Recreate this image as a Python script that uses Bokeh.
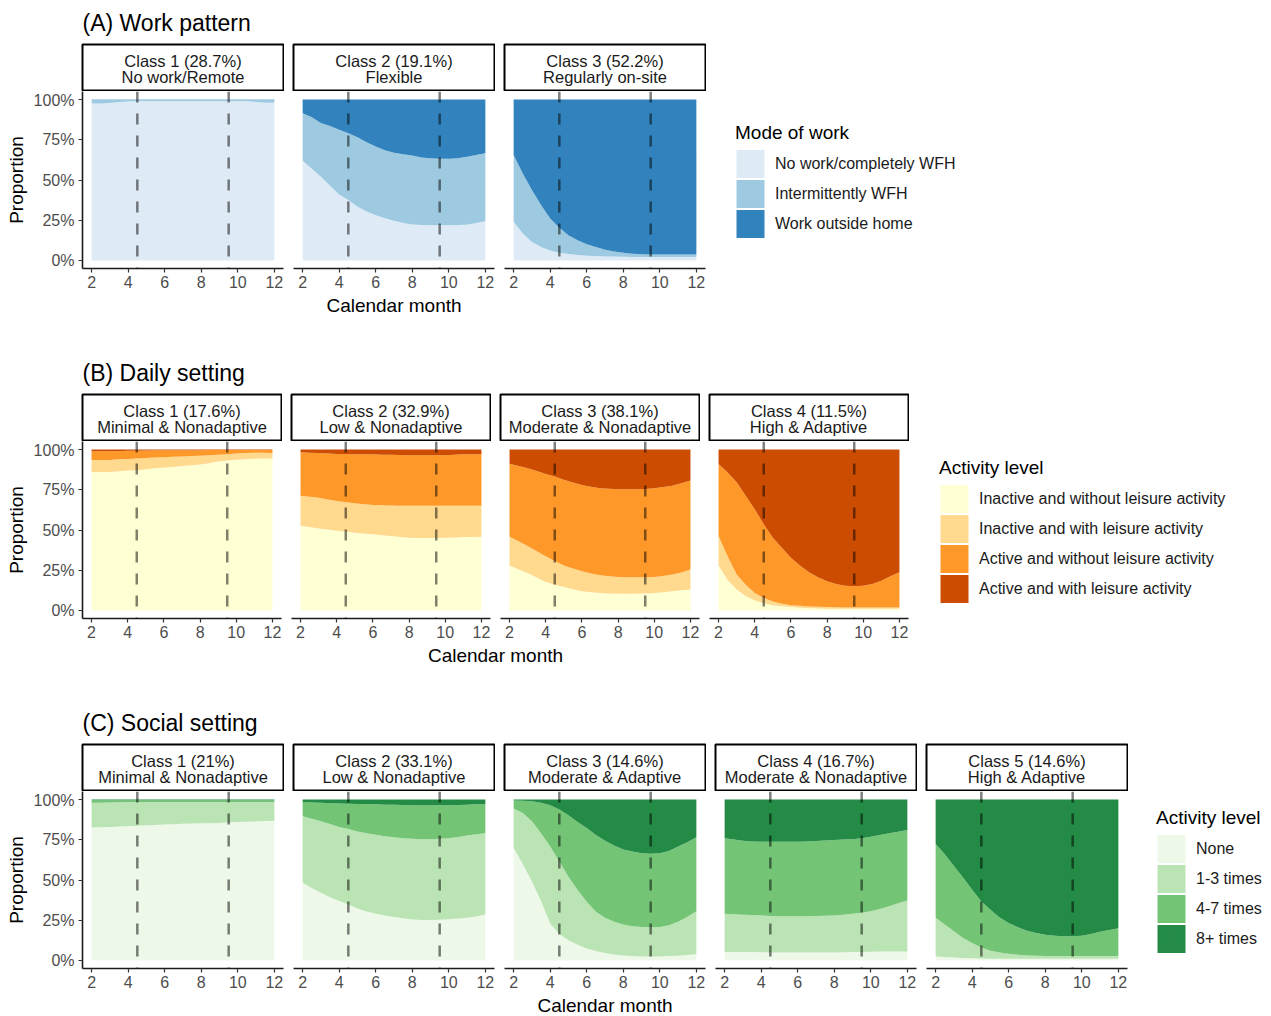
import numpy as np
from bokeh.plotting import figure
from bokeh.layouts import column, row
from bokeh.models import Span, Legend, LegendItem, FixedTicker, NumeralTickFormatter, Range1d
from bokeh.core.properties import value
from bokeh.embed import file_html
from bokeh.resources import INLINE

FONT = "Liberation Sans"

# sampled calendar months (half-month steps)
MONTHS = [2.0, 2.5, 3.0, 3.5, 4.0, 4.5, 5.0, 5.5, 6.0, 6.5, 7.0,
          7.5, 8.0, 8.5, 9.0, 9.5, 10.0, 10.5, 11.0, 11.5, 12.0]
MONTH_TICKS = [2, 4, 6, 8, 10, 12]
PROP_TICKS = [0, 0.25, 0.5, 0.75, 1.0]
LOCKDOWN_MONTHS = [4.5, 9.5]

# ---------------- (A) Work pattern ----------------
WORK_LEVELS = ["No work/completely WFH", "Intermittently WFH", "Work outside home"]
WORK_COLORS = ["#deebf7", "#9ecae1", "#3182bd"]
WORK_CLASSES = [("Class 1 (28.7%)", "No work/Remote"),
                ("Class 2 (19.1%)", "Flexible"),
                ("Class 3 (52.2%)", "Regularly on-site")]
# cumulative proportion reached by each level (the last level tops out at 100%)
WORK_C1 = [
    [0.975, 0.975, 0.978, 0.985, 0.988, 0.99, 0.99, 0.99, 0.99, 0.99, 0.99,
     0.99, 0.99, 0.99, 0.99, 0.99, 0.99, 0.99, 0.985, 0.98, 0.98],
    [0.999, 0.999, 0.999, 0.999, 0.999, 0.999, 0.999, 0.999, 0.999, 0.999, 0.999,
     0.999, 0.999, 0.999, 0.999, 0.999, 0.999, 0.999, 0.999, 0.999, 0.999],
]
WORK_C2 = [
    [0.62, 0.57, 0.52, 0.465, 0.41, 0.375, 0.333, 0.305, 0.281, 0.262, 0.246,
     0.233, 0.223, 0.22, 0.219, 0.219, 0.219, 0.22, 0.222, 0.232, 0.244],
    [0.915, 0.89, 0.855, 0.835, 0.8125, 0.79, 0.765, 0.735, 0.708, 0.685, 0.67,
     0.66, 0.652, 0.64, 0.635, 0.632, 0.632, 0.635, 0.645, 0.655, 0.667],
]
WORK_C3 = [
    [0.24, 0.167, 0.115, 0.083, 0.062, 0.048, 0.04, 0.034, 0.03, 0.027, 0.025,
     0.024, 0.023, 0.022, 0.022, 0.022, 0.022, 0.022, 0.022, 0.022, 0.022],
    [0.656, 0.54, 0.4375, 0.344, 0.26, 0.204, 0.156, 0.125, 0.1, 0.083, 0.067,
     0.056, 0.048, 0.042, 0.038, 0.0375, 0.0375, 0.0375, 0.0375, 0.0375, 0.0375],
]

# ---------------- (B) Daily setting ----------------
DAILY_LEVELS = ["Inactive and without leisure activity", "Inactive and with leisure activity",
                "Active and without leisure activity", "Active and with leisure activity"]
DAILY_COLORS = ["#ffffd4", "#fed98e", "#fe9929", "#cc4c02"]
DAILY_CLASSES = [("Class 1 (17.6%)", "Minimal & Nonadaptive"),
                 ("Class 2 (32.9%)", "Low & Nonadaptive"),
                 ("Class 3 (38.1%)", "Moderate & Nonadaptive"),
                 ("Class 4 (11.5%)", "High & Adaptive")]
DAILY_C1 = [
    [0.86, 0.86, 0.86, 0.865, 0.87, 0.872, 0.878, 0.883, 0.888, 0.892, 0.897,
     0.902, 0.907, 0.915, 0.925, 0.932, 0.937, 0.94, 0.943, 0.945, 0.945],
    [0.935, 0.935, 0.935, 0.94, 0.942, 0.945, 0.947, 0.95, 0.952, 0.955, 0.957,
     0.96, 0.962, 0.965, 0.967, 0.97, 0.975, 0.978, 0.98, 0.98, 0.978],
    [0.99, 0.99, 0.99, 0.99, 0.992, 0.993, 0.994, 0.995, 0.995, 0.995, 0.996,
     0.996, 0.996, 0.997, 0.997, 0.997, 0.997, 0.997, 0.997, 0.997, 0.997],
]
DAILY_C2 = [
    [0.527, 0.518, 0.51, 0.503, 0.496, 0.49, 0.483, 0.478, 0.473, 0.468, 0.4625,
     0.457, 0.452, 0.45, 0.45, 0.45, 0.452, 0.454, 0.456, 0.457, 0.458],
    [0.7125, 0.706, 0.70, 0.69, 0.68, 0.673, 0.667, 0.66, 0.656, 0.654, 0.652,
     0.651, 0.65, 0.65, 0.65, 0.65, 0.65, 0.65, 0.65, 0.65, 0.65],
    [0.983, 0.98, 0.978, 0.975, 0.973, 0.972, 0.971, 0.97, 0.97, 0.968, 0.967,
     0.966, 0.965, 0.965, 0.965, 0.965, 0.965, 0.967, 0.97, 0.97, 0.97],
]
DAILY_C3 = [
    [0.28, 0.255, 0.233, 0.205, 0.177, 0.16, 0.146, 0.132, 0.12, 0.113, 0.108,
     0.105, 0.104, 0.104, 0.104, 0.105, 0.108, 0.113, 0.12, 0.125, 0.13],
    [0.458, 0.43, 0.40, 0.368, 0.3375, 0.308, 0.28, 0.26, 0.244, 0.23, 0.219,
     0.212, 0.208, 0.206, 0.206, 0.206, 0.208, 0.214, 0.223, 0.236, 0.254],
    [0.9125, 0.898, 0.883, 0.866, 0.848, 0.833, 0.8125, 0.795, 0.78, 0.769, 0.76,
     0.756, 0.754, 0.754, 0.754, 0.755, 0.76, 0.767, 0.775, 0.79, 0.808],
]
DAILY_C4 = [
    [0.28, 0.19, 0.13, 0.09, 0.062, 0.045, 0.033, 0.026, 0.021, 0.017, 0.014,
     0.012, 0.011, 0.01, 0.01, 0.01, 0.01, 0.01, 0.01, 0.01, 0.01],
    [0.4625, 0.3375, 0.223, 0.16, 0.108, 0.077, 0.056, 0.042, 0.033, 0.029, 0.025,
     0.023, 0.021, 0.02, 0.019, 0.019, 0.019, 0.019, 0.019, 0.019, 0.019],
    [0.91, 0.858, 0.796, 0.7125, 0.629, 0.535, 0.452, 0.39, 0.327, 0.279, 0.2375,
     0.206, 0.181, 0.165, 0.154, 0.15, 0.154, 0.165, 0.185, 0.2125, 0.2375],
]

# ---------------- (C) Social setting ----------------
SOCIAL_LEVELS = ["None", "1-3 times", "4-7 times", "8+ times"]
SOCIAL_COLORS = ["#edf8e9", "#bae4b3", "#74c476", "#238b45"]
SOCIAL_CLASSES = [("Class 1 (21%)", "Minimal & Nonadaptive"),
                  ("Class 2 (33.1%)", "Low & Nonadaptive"),
                  ("Class 3 (14.6%)", "Moderate & Adaptive"),
                  ("Class 4 (16.7%)", "Moderate & Nonadaptive"),
                  ("Class 5 (14.6%)", "High & Adaptive")]
SOCIAL_C1 = [
    [0.827, 0.828, 0.83, 0.832, 0.835, 0.837, 0.84, 0.842, 0.845, 0.847, 0.85,
     0.851, 0.852, 0.853, 0.855, 0.857, 0.86, 0.862, 0.864, 0.866, 0.868],
    [0.98, 0.98, 0.982, 0.983, 0.984, 0.985, 0.985, 0.985, 0.985, 0.985, 0.985,
     0.985, 0.985, 0.985, 0.985, 0.985, 0.985, 0.985, 0.985, 0.985, 0.985],
    [0.995, 0.995, 0.995, 0.995, 0.995, 0.995, 0.995, 0.995, 0.995, 0.995, 0.995,
     0.995, 0.995, 0.995, 0.995, 0.995, 0.995, 0.995, 0.995, 0.995, 0.995],
]
SOCIAL_C2 = [
    [0.483, 0.45, 0.42, 0.393, 0.369, 0.348, 0.323, 0.305, 0.29, 0.279, 0.27,
     0.262, 0.254, 0.252, 0.252, 0.253, 0.256, 0.26, 0.265, 0.273, 0.285],
    [0.896, 0.88, 0.865, 0.848, 0.83, 0.817, 0.802, 0.79, 0.781, 0.772, 0.765,
     0.76, 0.756, 0.754, 0.754, 0.756, 0.76, 0.768, 0.777, 0.784, 0.79],
    [0.985, 0.982, 0.98, 0.977, 0.975, 0.974, 0.973, 0.972, 0.97, 0.968, 0.967,
     0.966, 0.965, 0.965, 0.965, 0.965, 0.965, 0.966, 0.968, 0.97, 0.97],
]
SOCIAL_C3 = [
    [0.70, 0.60, 0.49, 0.37, 0.23, 0.165, 0.125, 0.098, 0.075, 0.058, 0.046,
     0.037, 0.031, 0.027, 0.025, 0.025, 0.025, 0.027, 0.03, 0.034, 0.038],
    [0.944, 0.917, 0.865, 0.79, 0.708, 0.615, 0.52, 0.4375, 0.365, 0.302, 0.265,
     0.24, 0.223, 0.2125, 0.208, 0.206, 0.208, 0.219, 0.24, 0.27, 0.306],
    [0.994, 0.993, 0.99, 0.98, 0.965, 0.9375, 0.902, 0.86, 0.823, 0.78, 0.744,
     0.715, 0.69, 0.677, 0.667, 0.6625, 0.667, 0.68, 0.708, 0.735, 0.765],
]
SOCIAL_C4 = [
    [0.052, 0.052, 0.052, 0.052, 0.051, 0.05, 0.05, 0.05, 0.05, 0.05, 0.05,
     0.05, 0.05, 0.051, 0.052, 0.053, 0.054, 0.055, 0.055, 0.056, 0.056],
    [0.29, 0.287, 0.284, 0.282, 0.28, 0.277, 0.275, 0.275, 0.275, 0.275, 0.276,
     0.278, 0.28, 0.284, 0.29, 0.297, 0.306, 0.32, 0.337, 0.355, 0.373],
    [0.76, 0.752, 0.744, 0.74, 0.7375, 0.737, 0.737, 0.737, 0.7375, 0.74, 0.743,
     0.745, 0.748, 0.751, 0.754, 0.76, 0.769, 0.78, 0.79, 0.8, 0.81],
]
SOCIAL_C5 = [
    [0.025, 0.022, 0.019, 0.016, 0.014, 0.012, 0.011, 0.01, 0.01, 0.01, 0.01,
     0.01, 0.01, 0.01, 0.01, 0.01, 0.01, 0.01, 0.01, 0.01, 0.01],
    [0.265, 0.223, 0.181, 0.14, 0.108, 0.081, 0.06, 0.05, 0.042, 0.036, 0.031,
     0.029, 0.027, 0.027, 0.027, 0.027, 0.027, 0.027, 0.027, 0.027, 0.027],
    [0.723, 0.66, 0.5875, 0.515, 0.44, 0.367, 0.315, 0.267, 0.233, 0.206, 0.185,
     0.171, 0.16, 0.154, 0.15, 0.15, 0.154, 0.165, 0.178, 0.19, 0.2],
]

# ---------------- layout constants ----------------
PAGE_W = 1271
AXIS_W = 82        # left border holding the proportion axis
GAP = 9            # space between facets
STRIP_H = 46
PANEL_H = 177
BOTTOM_H = 26
TITLE_H = 42


def text_figure(width, height):
    f = figure(width=width, height=height, x_range=Range1d(0, width), y_range=Range1d(0, height),
               min_border=0, x_axis_location=None, y_axis_location=None,
               toolbar_location=None, output_backend="svg", outline_line_color=None)
    f.grid.visible = False
    return f


def style_axis(ax):
    ax.major_tick_out = 4
    ax.major_tick_in = 0
    ax.minor_tick_out = 0
    ax.minor_tick_in = 0
    ax.axis_line_color = "#1a1a1a"
    ax.axis_line_width = 1.6
    ax.major_tick_line_color = "#333333"
    ax.major_tick_line_width = 1.2
    ax.major_label_text_font = FONT
    ax.major_label_text_font_size = "16px"
    ax.major_label_text_color = "#4d4d4d"


def build_block(title, classes, cums, levels, colors, legend_title, frame_w, tail_h, legend_margin):
    n = len(classes)
    strips, panels = [], []
    for i, ((line1, line2), cum) in enumerate(zip(classes, cums)):
        left = AXIS_W if i == 0 else GAP

        s = figure(frame_width=frame_w, frame_height=STRIP_H, x_range=Range1d(0, 1), y_range=Range1d(0, 1),
                   min_border_left=left, min_border_right=1, min_border_top=2, min_border_bottom=1,
                   x_axis_location=None, y_axis_location=None, toolbar_location=None,
                   output_backend="svg", outline_line_color="black", outline_line_width=2)
        s.grid.visible = False
        s.text(x=[0.5, 0.5], y=[0.652, 0.304], text=[line1, line2], text_align="center",
               text_baseline="middle", text_font=value(FONT), text_font_size="16.5px",
               text_color="#1a1a1a")
        strips.append(s)

        p = figure(frame_width=frame_w, frame_height=PANEL_H,
                   x_range=Range1d(1.5, 12.5), y_range=Range1d(-0.05, 1.05),
                   min_border_left=left, min_border_right=1, min_border_top=0,
                   min_border_bottom=BOTTOM_H,
                   y_axis_location="left" if i == 0 else None,
                   toolbar_location=None, output_backend="svg", outline_line_color=None)
        p.grid.visible = False

        bounds = [np.zeros(len(MONTHS))] + [np.asarray(c, dtype=float) for c in cum] + [np.ones(len(MONTHS))]
        for k in range(len(levels)):
            p.varea(x=MONTHS, y1=bounds[k], y2=bounds[k + 1], fill_color=colors[k])

        for m in LOCKDOWN_MONTHS:
            p.add_layout(Span(location=m, dimension="height", line_color="black",
                              line_alpha=0.5, line_width=2.5, line_dash="11 11"))

        xa = p.xaxis[0]
        xa.ticker = FixedTicker(ticks=MONTH_TICKS)
        style_axis(xa)
        xa.major_label_standoff = 3

        if i == 0:
            ya = p.yaxis[0]
            ya.ticker = FixedTicker(ticks=PROP_TICKS)
            ya.formatter = NumeralTickFormatter(format="0%")
            style_axis(ya)
            ya.major_label_standoff = 4
            ya.axis_label = "Proportion"
            ya.axis_label_text_font = FONT
            ya.axis_label_text_font_size = "19px"
            ya.axis_label_text_font_style = "normal"
            ya.axis_label_text_color = "black"
            ya.axis_label_standoff = 4
        panels.append(p)

    row_w = AXIS_W + frame_w + 1 + (n - 1) * (GAP + frame_w + 1)

    # legend holder beside the facets; its key renderers sit outside the visible range
    lf = figure(width=PAGE_W - row_w, height=PANEL_H + BOTTOM_H, x_range=Range1d(0, 1), y_range=Range1d(0, 1),
                min_border=0, min_border_bottom=BOTTOM_H, x_axis_location=None, y_axis_location=None,
                toolbar_location=None, output_backend="svg", outline_line_color=None)
    lf.grid.visible = False
    items = []
    for lvl, col in zip(levels, colors):
        r = lf.quad(left=[-2], right=[-2], bottom=[-2], top=[-2],
                    fill_color=col, line_color=col, line_width=4, line_join="miter")
        items.append(LegendItem(label=lvl, renderers=[r]))
    legend = Legend(items=items, location="center_left", title=legend_title,
                    title_text_font=FONT, title_text_font_size="19px", title_text_font_style="normal",
                    title_text_color="black", title_standoff=5,
                    label_text_font=FONT, label_text_font_size="16px", label_text_color="#1a1a1a",
                    glyph_width=30, glyph_height=30, label_height=30, spacing=0, label_standoff=10,
                    padding=0, margin=legend_margin, border_line_color=None, background_fill_alpha=0)
    lf.add_layout(legend)

    head = text_figure(PAGE_W, TITLE_H)
    head.text(x=[AXIS_W], y=[TITLE_H - 22], text=[title], text_align="left", text_baseline="middle",
              text_font=value(FONT), text_font_size="23px", text_color="black")

    tail = text_figure(PAGE_W, tail_h)
    tail.text(x=[(AXIS_W + row_w - 1) / 2], y=[tail_h - 11], text=["Calendar month"], text_align="center",
              text_baseline="middle", text_font=value(FONT), text_font_size="19px", text_color="black")

    return column(head, row(*strips), row(*panels, lf), tail)


block_a = build_block("(A) Work pattern", WORK_CLASSES, [WORK_C1, WORK_C2, WORK_C3],
                      WORK_LEVELS, WORK_COLORS, "Mode of work", 201, 56, 29)
block_b = build_block("(B) Daily setting", DAILY_CLASSES, [DAILY_C1, DAILY_C2, DAILY_C3, DAILY_C4],
                      DAILY_LEVELS, DAILY_COLORS, "Activity level", 199, 56, 30)
block_c = build_block("(C) Social setting", SOCIAL_CLASSES,
                      [SOCIAL_C1, SOCIAL_C2, SOCIAL_C3, SOCIAL_C4, SOCIAL_C5],
                      SOCIAL_LEVELS, SOCIAL_COLORS, "Activity level", 201, 22, 28)

page = column(block_a, block_b, block_c)

with open("out.html", "w") as fh:
    fh.write(file_html(page, INLINE))
